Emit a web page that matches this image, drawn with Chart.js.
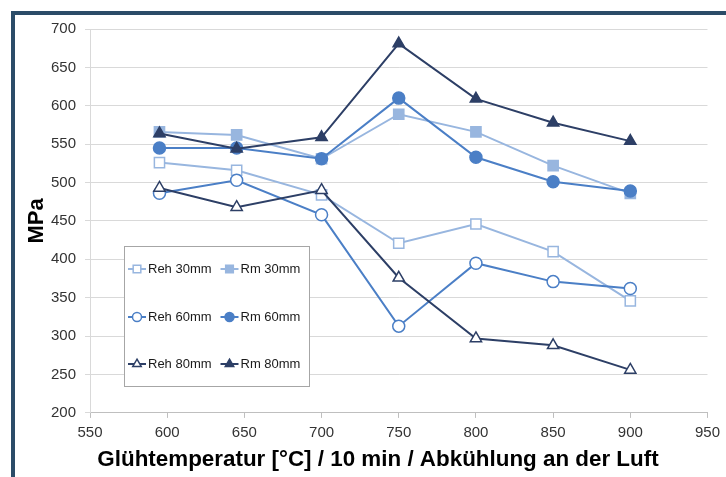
<!DOCTYPE html>
<html>
<head>
<meta charset="utf-8">
<script src="https://cdn.jsdelivr.net/npm/chart.js@4.4.0/dist/chart.umd.min.js"></script>
<style>
html, body { margin: 0; padding: 0; background: #fff; }
#wrap { position: relative; width: 726px; height: 477px; overflow: hidden; }
#frame { position: absolute; left: 11px; top: 11px; width: 800px; height: 600px;
         border-left: 4px solid #2b4c68; border-top: 4px solid #2b4c68; }
#chart { position: absolute; left: 0; top: 0; }
</style>
</head>
<body>
<div id="wrap">
  <div id="frame"></div>
  <canvas id="chart" width="726" height="477"></canvas>
</div>
<script>
// Glühtemperatur in °C
const temps = [595, 645, 700, 750, 800, 850, 900];

// MPa
const reh30 = [526, 516, 484, 421, 446, 410, 346];
const rm30  = [566, 562, 531, 589, 566, 522, 486];
const reh60 = [486, 503, 458, 313, 395, 371, 362];
const rm60  = [545, 545, 531, 610, 533, 501, 489];
const reh80 = [493, 468, 490, 376, 297, 288, 256];
const rm80  = [564, 544, 559, 681, 609, 578, 554];

const xTickValues = [550, 600, 650, 700, 750, 800, 850, 900, 950];
const yTickValues = [200, 250, 300, 350, 400, 450, 500, 550, 600, 650, 700];

const light = "#98b6df";
const medium = "#4b7fc6";
const dark = "#2d3f66";

Chart.defaults.font.family = "'Liberation Sans', Arial, sans-serif";

function toPoints(values) {
    return values.map((v, i) => ({ x: temps[i], y: v }));
}

function series(label, values, color, style, open, radius, order) {
    return {
        label: label,
        data: toPoints(values),
        borderColor: color,
        borderWidth: 2,
        pointStyle: style,
        pointRadius: radius,
        pointBorderWidth: 1.5,
        pointBorderColor: color,
        pointBackgroundColor: open ? "#ffffff" : color,
        order: order
    };
}

const datasets = [
    series("Reh 30mm", reh30, light, "rect", true, 7.2, 6),
    series("Rm 30mm", rm30, light, "rect", false, 7.2, 5),
    series("Reh 60mm", reh60, medium, "circle", true, 6, 4),
    series("Rm 60mm", rm60, medium, "circle", false, 6, 3),
    series("Reh 80mm", reh80, dark, "triangle", true, 6.5, 2),
    series("Rm 80mm", rm80, dark, "triangle", false, 6.5, 1)
];

// legend box inside the plot, two columns
const legendBox = {
    id: "legendBox",
    afterDraw(chart) {
        const ctx = chart.ctx;
        ctx.save();
        ctx.fillStyle = "#ffffff";
        ctx.strokeStyle = "#a6a6a6";
        ctx.lineWidth = 1;
        ctx.fillRect(124.5, 246.5, 185, 140);
        ctx.strokeRect(124.5, 246.5, 185, 140);

        const cols = [137, 229.5];
        const rows = [269, 317, 364];
        ctx.font = "13px 'Liberation Sans', Arial, sans-serif";
        ctx.textBaseline = "middle";
        ctx.textAlign = "left";

        datasets.forEach((ds, i) => {
            const cx = cols[i % 2];
            const cy = rows[Math.floor(i / 2)];
            ctx.strokeStyle = ds.borderColor;
            ctx.lineWidth = 2;
            ctx.beginPath();
            ctx.moveTo(cx - 9, cy);
            ctx.lineTo(cx + 9, cy);
            ctx.stroke();

            ctx.fillStyle = ds.pointBackgroundColor;
            ctx.strokeStyle = ds.pointBorderColor;
            ctx.lineWidth = 1.5;
            Chart.helpers.drawPoint(ctx, {
                pointStyle: ds.pointStyle,
                radius: ds.pointRadius * 0.75,
                borderWidth: 1.5,
                rotation: 0
            }, cx, cy);

            ctx.fillStyle = "#1a1a1a";
            ctx.fillText(ds.label, cx + 11, cy);
        });
        ctx.restore();
    }
};

const ctx = document.getElementById("chart").getContext("2d");

new Chart(ctx, {
    type: "line",
    data: { datasets: datasets },
    options: {
        responsive: false,
        animation: false,
        layout: { padding: { left: 44, top: 29, right: 14, bottom: 0 } },
        plugins: {
            legend: { display: false },
            tooltip: { enabled: false },
            title: {
                display: true,
                position: "bottom",
                text: "Glühtemperatur [°C] / 10 min / Abkühlung an der Luft",
                color: "#000000",
                font: { size: 22.4, weight: "bold" },
                padding: { top: 0, bottom: 4 }
            }
        },
        scales: {
            x: {
                type: "linear",
                min: 550,
                max: 950,
                afterBuildTicks: s => { s.ticks = xTickValues.map(v => ({ value: v })); },
                afterFit: s => { s.height = 33.2; },
                ticks: { color: "#333333", font: { size: 15 }, padding: 6, maxRotation: 0 },
                grid: { drawOnChartArea: false, tickLength: 5, color: "#bfbfbf" },
                border: { color: "#bfbfbf" }
            },
            y: {
                min: 200,
                max: 700,
                afterBuildTicks: s => { s.ticks = yTickValues.map(v => ({ value: v })); },
                afterFit: s => { s.width = 46; },
                ticks: { color: "#333333", font: { size: 15 }, padding: 9 },
                grid: { color: "#d9d9d9", tickLength: 5 },
                border: { color: "#d9d9d9" },
                title: {
                    display: true,
                    text: "MPa",
                    color: "#000000",
                    font: { size: 22, weight: "bold", lineHeight: 0.6 },
                    padding: { top: -14, bottom: 0 }
                }
            }
        }
    },
    plugins: [legendBox]
});
</script>
</body>
</html>
